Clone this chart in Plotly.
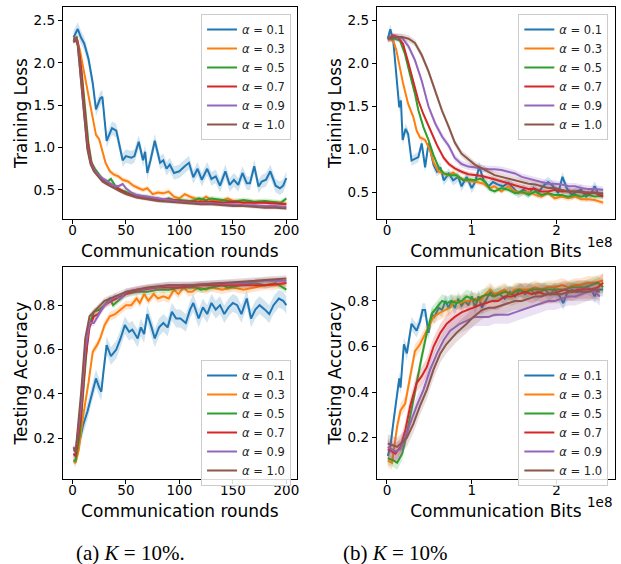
import plotly.graph_objects as go

# ---------------- labels / styling keys ----------------
alphas = ["0.1", "0.3", "0.5", "0.7", "0.9", "1.0"]
colors = ["#1f77b4", "#ff7f0e", "#2ca02c", "#d62728", "#9467bd", "#8c564b"]
band_colors = ["rgba(31,119,180,0.2)", "rgba(255,127,14,0.2)", "rgba(44,160,44,0.2)",
               "rgba(214,39,40,0.2)", "rgba(148,103,189,0.2)", "rgba(140,86,75,0.2)"]

# ---------------- Panel (a) top: Training loss vs communication rounds ----------------
loss_r_x01 = [1,3,5,8,11,15,19,22,26,28,32,37,41,47,50,55,58,62,66,68,70,73,77,82,85,88,91,95,100,105,109,113,117,121,126,130,134,138,143,147,151,155,159,163,166,170,174,177,181,185,190,194,197,200]
loss_r_y01 = [2.30,2.36,2.40,2.30,2.23,2.05,1.76,1.45,1.58,1.60,1.08,1.23,1.20,0.85,0.90,0.88,0.90,1.07,0.85,0.95,0.70,0.85,1.08,0.82,0.85,0.75,0.80,0.70,0.72,0.78,0.82,0.65,0.75,0.62,0.75,0.63,0.66,0.55,0.72,0.56,0.62,0.56,0.70,0.58,0.58,0.78,0.54,0.60,0.62,0.72,0.55,0.52,0.55,0.64]
loss_r_x03 = [1,4,7,10,14,18,22,25,28,31,35,39,43,47,52,57,62,66,70,75,80,85,90,95,100,105,110,115,120,125,130,135,140,145,150,155,160,165,170,175,180,185,190,195,200]
loss_r_y03 = [2.28,2.30,2.15,1.95,1.65,1.40,1.15,1.10,0.95,0.82,0.72,0.68,0.66,0.62,0.60,0.55,0.52,0.50,0.52,0.45,0.47,0.46,0.48,0.42,0.40,0.45,0.42,0.40,0.38,0.42,0.38,0.37,0.37,0.40,0.37,0.37,0.35,0.37,0.35,0.36,0.35,0.34,0.35,0.34,0.34]
loss_r_x05 = [1,4,6,9,12,15,18,21,25,29,33,36,40,45,50,55,60,65,70,75,80,85,90,95,100,110,115,118,125,130,140,150,160,170,180,190,195,200]
loss_r_y05 = [2.28,2.30,2.15,1.85,1.45,1.05,0.82,0.75,0.68,0.62,0.60,0.63,0.55,0.50,0.48,0.45,0.44,0.42,0.42,0.40,0.40,0.38,0.40,0.38,0.38,0.37,0.38,0.40,0.38,0.40,0.38,0.36,0.38,0.36,0.37,0.36,0.35,0.40]
loss_r_x07 = [1,3,5,8,11,14,17,20,24,28,32,36,40,45,50,55,60,70,80,90,100,110,120,130,140,150,160,170,180,190,200]
loss_r_y07 = [2.26,2.30,2.25,1.95,1.50,1.10,0.85,0.75,0.68,0.62,0.58,0.57,0.53,0.50,0.46,0.44,0.42,0.40,0.38,0.39,0.37,0.36,0.36,0.36,0.35,0.36,0.35,0.35,0.35,0.34,0.33]
loss_r_x09 = [1,3,5,8,11,14,17,20,24,28,32,36,40,44,47,50,55,60,70,80,90,100,110,120,130,140,150,160,170,180,190,200]
loss_r_y09 = [2.25,2.28,2.22,1.85,1.40,1.00,0.82,0.74,0.68,0.64,0.61,0.58,0.54,0.55,0.57,0.52,0.47,0.44,0.42,0.40,0.38,0.36,0.35,0.34,0.34,0.33,0.33,0.32,0.32,0.31,0.31,0.30]
loss_r_x10 = [1,3,5,8,11,14,17,20,24,28,32,36,40,45,50,55,60,70,80,90,100,110,120,130,140,150,160,170,180,190,200]
loss_r_y10 = [2.24,2.28,2.20,1.80,1.35,0.98,0.80,0.72,0.66,0.60,0.57,0.54,0.52,0.48,0.45,0.43,0.41,0.39,0.37,0.36,0.35,0.34,0.33,0.33,0.32,0.31,0.31,0.30,0.29,0.29,0.28]
loss_r_spread = [0.08, 0.03, 0.03, 0.02, 0.02, 0.02]

# ---------------- Panel (b) top: Training loss vs communication bits (x in 1e8) ----------------
loss_b_x01 = [0.01,0.04,0.075,0.11,0.145,0.165,0.185,0.22,0.25,0.29,0.33,0.37,0.41,0.45,0.49,0.51,0.55,0.59,0.63,0.67,0.73,0.78,0.84,0.88,0.94,1.00,1.04,1.09,1.14,1.20,1.25,1.31,1.37,1.43,1.49,1.55,1.61,1.67,1.73,1.78,1.84,1.90,1.96,2.02,2.07,2.12,2.18,2.24,2.29,2.35,2.41,2.45,2.49,2.55]
loss_b_y01 = [2.29,2.40,2.26,1.88,1.49,1.57,1.11,1.24,1.18,0.87,0.89,0.91,1.07,0.79,1.07,1.00,0.82,0.74,0.79,0.64,0.72,0.64,0.68,0.57,0.68,0.55,0.62,0.80,0.64,0.57,0.62,0.59,0.57,0.61,0.55,0.49,0.53,0.49,0.55,0.49,0.57,0.62,0.57,0.49,0.68,0.55,0.47,0.51,0.53,0.45,0.49,0.57,0.49,0.48]
loss_b_x03 = [0.01,0.075,0.11,0.15,0.19,0.25,0.31,0.35,0.39,0.45,0.51,0.55,0.61,0.67,0.73,0.78,0.84,0.90,0.98,1.06,1.14,1.21,1.27,1.35,1.43,1.51,1.59,1.67,1.75,1.82,1.90,1.98,2.06,2.14,2.22,2.29,2.37,2.45,2.55]
loss_b_y03 = [2.29,2.27,2.16,1.96,1.77,1.53,1.38,1.22,1.14,1.11,0.99,0.85,0.74,0.72,0.70,0.73,0.68,0.65,0.63,0.62,0.60,0.55,0.57,0.51,0.57,0.51,0.49,0.51,0.47,0.45,0.49,0.43,0.45,0.43,0.45,0.42,0.42,0.41,0.38]
loss_b_x05 = [0.01,0.10,0.153,0.21,0.27,0.33,0.37,0.43,0.49,0.55,0.61,0.67,0.75,0.82,0.90,0.98,1.04,1.10,1.16,1.22,1.27,1.35,1.43,1.51,1.59,1.67,1.75,1.82,1.90,1.98,2.06,2.14,2.22,2.29,2.37,2.45,2.55]
loss_b_y05 = [2.29,2.29,2.27,2.12,1.88,1.65,1.46,1.26,1.11,0.93,0.79,0.72,0.70,0.70,0.64,0.65,0.64,0.66,0.62,0.53,0.51,0.55,0.53,0.49,0.51,0.47,0.51,0.47,0.49,0.47,0.47,0.45,0.47,0.45,0.47,0.45,0.46]
loss_b_x07 = [0.01,0.075,0.13,0.19,0.25,0.31,0.37,0.43,0.51,0.59,0.67,0.73,0.80,0.88,0.96,1.04,1.12,1.20,1.27,1.35,1.43,1.51,1.59,1.67,1.75,1.82,1.90,1.98,2.06,2.14,2.22,2.29,2.37,2.45,2.55]
loss_b_y07 = [2.29,2.33,2.31,2.23,2.02,1.78,1.57,1.41,1.22,1.05,0.90,0.83,0.78,0.74,0.71,0.70,0.69,0.67,0.65,0.62,0.60,0.58,0.56,0.54,0.54,0.51,0.51,0.53,0.51,0.51,0.51,0.50,0.49,0.50,0.45]
loss_b_x09 = [0.01,0.10,0.18,0.255,0.33,0.41,0.49,0.57,0.65,0.73,0.80,0.88,0.96,1.04,1.12,1.20,1.27,1.35,1.43,1.51,1.59,1.67,1.75,1.82,1.90,1.98,2.06,2.14,2.22,2.29,2.37,2.45,2.55]
loss_b_y09 = [2.29,2.31,2.30,2.20,2.04,1.80,1.50,1.30,1.15,1.04,0.90,0.83,0.80,0.79,0.78,0.77,0.77,0.76,0.74,0.72,0.68,0.66,0.64,0.62,0.60,0.60,0.59,0.57,0.57,0.55,0.54,0.54,0.53]
loss_b_x10 = [0.01,0.10,0.18,0.255,0.33,0.41,0.49,0.57,0.65,0.73,0.80,0.88,0.96,1.04,1.12,1.20,1.27,1.35,1.43,1.51,1.59,1.67,1.75,1.82,1.90,1.98,2.06,2.14,2.22,2.29,2.37,2.45,2.55]
loss_b_y10 = [2.29,2.31,2.31,2.29,2.24,2.10,1.91,1.67,1.45,1.26,1.08,0.95,0.88,0.82,0.78,0.74,0.70,0.68,0.66,0.64,0.62,0.60,0.59,0.57,0.55,0.55,0.53,0.51,0.51,0.50,0.50,0.49,0.49]
loss_b_spread = [0.06, 0.03, 0.03, 0.03, 0.04, 0.04]

# ---------------- Panel (a) bottom: Testing accuracy vs communication rounds ----------------
acc_r_x01 = [1,3,5,8,10,14,18,22,25,27,29,32,36,41,45,49,53,56,61,64,67,70,74,77,81,85,89,93,97,101,106,110,113,118,122,126,130,134,138,142,146,150,154,158,163,167,171,175,180,184,188,193,197,200]
acc_r_y01 = [0.13,0.12,0.15,0.22,0.26,0.32,0.40,0.47,0.43,0.41,0.50,0.62,0.57,0.60,0.65,0.71,0.68,0.69,0.65,0.70,0.67,0.76,0.70,0.65,0.70,0.72,0.70,0.77,0.74,0.74,0.72,0.78,0.81,0.74,0.79,0.76,0.81,0.78,0.80,0.76,0.79,0.81,0.80,0.76,0.83,0.74,0.78,0.80,0.78,0.76,0.80,0.83,0.82,0.80]
acc_r_x03 = [1,3,6,10,15,19,23,26,30,35,40,45,50,55,60,63,67,71,76,80,85,90,95,99,104,108,112,118,125,130,140,150,160,170,180,190,200]
acc_r_y03 = [0.10,0.09,0.15,0.30,0.45,0.59,0.62,0.65,0.71,0.75,0.76,0.78,0.80,0.80,0.83,0.81,0.85,0.82,0.85,0.83,0.84,0.83,0.87,0.85,0.88,0.86,0.86,0.88,0.87,0.88,0.87,0.88,0.87,0.88,0.89,0.89,0.90]
acc_r_x05 = [1,3,7,11,15,20,25,30,35,38,43,50,60,70,80,90,100,115,120,130,140,145,160,170,180,190,200]
acc_r_y05 = [0.10,0.10,0.22,0.48,0.70,0.77,0.78,0.80,0.83,0.80,0.82,0.85,0.86,0.86,0.87,0.87,0.88,0.88,0.87,0.88,0.89,0.88,0.89,0.90,0.89,0.90,0.87]
acc_r_x07 = [1,3,8,12,16,20,24,30,37,45,55,65,80,100,120,140,160,180,200]
acc_r_y07 = [0.13,0.12,0.30,0.55,0.70,0.75,0.76,0.80,0.82,0.84,0.86,0.87,0.88,0.88,0.89,0.89,0.89,0.89,0.90]
acc_r_x09 = [1,3,8,12,16,20,25,30,40,45,50,60,75,90,110,140,160,180,200]
acc_r_y09 = [0.15,0.14,0.35,0.60,0.72,0.72,0.76,0.80,0.84,0.83,0.86,0.87,0.88,0.89,0.89,0.90,0.90,0.91,0.91]
acc_r_x10 = [1,3,8,12,16,22,30,40,50,60,70,90,110,140,170,200]
acc_r_y10 = [0.16,0.14,0.40,0.65,0.75,0.78,0.82,0.84,0.86,0.87,0.88,0.89,0.89,0.90,0.91,0.92]
acc_r_spread = [0.04, 0.02, 0.015, 0.015, 0.015, 0.015]

# ---------------- Panel (b) bottom: Testing accuracy vs communication bits (x in 1e8) ----------------
acc_b_x01 = [0.01,0.04,0.08,0.12,0.145,0.16,0.20,0.235,0.29,0.35,0.39,0.42,0.45,0.49,0.53,0.56,0.61,0.65,0.69,0.725,0.76,0.80,0.84,0.88,0.92,0.96,1.00,1.04,1.08,1.12,1.16,1.22,1.27,1.33,1.39,1.45,1.51,1.57,1.63,1.69,1.75,1.80,1.86,1.92,1.98,2.04,2.08,2.12,2.18,2.24,2.29,2.35,2.41,2.45,2.49,2.55]
acc_b_y01 = [0.12,0.16,0.28,0.38,0.46,0.42,0.61,0.57,0.70,0.67,0.71,0.76,0.76,0.66,0.74,0.73,0.77,0.76,0.80,0.77,0.80,0.77,0.81,0.78,0.80,0.78,0.82,0.77,0.82,0.77,0.80,0.84,0.82,0.83,0.81,0.84,0.82,0.85,0.83,0.85,0.83,0.84,0.85,0.83,0.85,0.82,0.79,0.83,0.85,0.84,0.85,0.86,0.85,0.82,0.85,0.85]
acc_b_x03 = [0.01,0.06,0.12,0.16,0.215,0.275,0.33,0.39,0.47,0.55,0.63,0.69,0.745,0.80,0.86,0.92,0.98,1.04,1.10,1.16,1.22,1.27,1.33,1.39,1.45,1.51,1.59,1.67,1.75,1.82,1.90,1.98,2.06,2.14,2.22,2.29,2.37,2.45,2.55]
acc_b_y03 = [0.10,0.09,0.25,0.32,0.35,0.47,0.58,0.61,0.67,0.73,0.75,0.76,0.77,0.80,0.79,0.80,0.80,0.81,0.80,0.83,0.85,0.83,0.84,0.85,0.83,0.85,0.85,0.85,0.86,0.85,0.86,0.86,0.87,0.86,0.87,0.87,0.88,0.88,0.89]
acc_b_x05 = [0.01,0.08,0.12,0.18,0.235,0.29,0.35,0.41,0.47,0.53,0.59,0.65,0.71,0.76,0.82,0.88,0.94,1.00,1.06,1.12,1.20,1.25,1.31,1.39,1.47,1.55,1.63,1.71,1.78,1.86,1.94,2.02,2.10,2.18,2.25,2.33,2.41,2.49,2.55]
acc_b_y05 = [0.11,0.10,0.09,0.13,0.22,0.32,0.44,0.555,0.66,0.745,0.77,0.80,0.79,0.80,0.79,0.80,0.82,0.81,0.80,0.82,0.83,0.82,0.83,0.84,0.83,0.85,0.84,0.85,0.85,0.85,0.85,0.85,0.85,0.86,0.86,0.86,0.87,0.88,0.86]
acc_b_x07 = [0.01,0.10,0.16,0.215,0.275,0.35,0.41,0.47,0.55,0.63,0.705,0.80,0.88,0.94,1.00,1.08,1.16,1.24,1.31,1.39,1.47,1.55,1.63,1.71,1.78,1.86,1.94,2.02,2.10,2.18,2.25,2.33,2.41,2.49,2.55]
acc_b_y07 = [0.15,0.13,0.16,0.23,0.34,0.44,0.47,0.51,0.60,0.66,0.70,0.73,0.75,0.76,0.77,0.78,0.79,0.80,0.80,0.82,0.82,0.83,0.84,0.83,0.84,0.83,0.83,0.84,0.85,0.84,0.85,0.85,0.85,0.86,0.88]
acc_b_x09 = [0.01,0.10,0.16,0.215,0.29,0.35,0.43,0.51,0.59,0.67,0.745,0.86,0.98,1.04,1.12,1.20,1.27,1.35,1.43,1.51,1.59,1.67,1.75,1.82,1.90,1.98,2.06,2.14,2.22,2.29,2.37,2.45,2.51]
acc_b_y09 = [0.16,0.14,0.15,0.20,0.28,0.34,0.41,0.50,0.57,0.63,0.67,0.70,0.72,0.73,0.73,0.73,0.74,0.74,0.74,0.75,0.76,0.77,0.78,0.79,0.80,0.80,0.81,0.82,0.82,0.83,0.84,0.84,0.82]
acc_b_x10 = [0.01,0.12,0.235,0.31,0.39,0.47,0.55,0.63,0.70,0.82,0.94,1.02,1.12,1.20,1.27,1.35,1.43,1.51,1.59,1.67,1.75,1.82,1.90,1.98,2.06,2.14,2.22,2.29,2.37,2.45,2.51]
acc_b_y10 = [0.175,0.16,0.20,0.26,0.34,0.41,0.50,0.57,0.61,0.66,0.70,0.73,0.76,0.77,0.77,0.78,0.79,0.80,0.80,0.81,0.82,0.82,0.83,0.83,0.83,0.84,0.84,0.84,0.84,0.85,0.84]
acc_b_spread = [0.03, 0.03, 0.03, 0.04, 0.04, 0.04]

# ---------------- tick labels / titles ----------------
rounds_ticks = [0, 50, 100, 150, 200]
bits_ticks = [0, 1, 2]
bits_ticktext = ["0", "1", "2"]
loss_ticks = [0.5, 1.0, 1.5, 2.0, 2.5]
acc_ticks = [0.2, 0.4, 0.6, 0.8]

panels = [
    dict(xs=[loss_r_x01, loss_r_x03, loss_r_x05, loss_r_x07, loss_r_x09, loss_r_x10],
         ys=[loss_r_y01, loss_r_y03, loss_r_y05, loss_r_y07, loss_r_y09, loss_r_y10],
         spread=loss_r_spread, xa="x", ya="y", leg="legend"),
    dict(xs=[loss_b_x01, loss_b_x03, loss_b_x05, loss_b_x07, loss_b_x09, loss_b_x10],
         ys=[loss_b_y01, loss_b_y03, loss_b_y05, loss_b_y07, loss_b_y09, loss_b_y10],
         spread=loss_b_spread, xa="x2", ya="y2", leg="legend2"),
    dict(xs=[acc_r_x01, acc_r_x03, acc_r_x05, acc_r_x07, acc_r_x09, acc_r_x10],
         ys=[acc_r_y01, acc_r_y03, acc_r_y05, acc_r_y07, acc_r_y09, acc_r_y10],
         spread=acc_r_spread, xa="x3", ya="y3", leg="legend3"),
    dict(xs=[acc_b_x01, acc_b_x03, acc_b_x05, acc_b_x07, acc_b_x09, acc_b_x10],
         ys=[acc_b_y01, acc_b_y03, acc_b_y05, acc_b_y07, acc_b_y09, acc_b_y10],
         spread=acc_b_spread, xa="x4", ya="y4", leg="legend4"),
]

fig = go.Figure()
for p in panels:
    for i in range(6):
        xs, ys, s = p["xs"][i], p["ys"][i], p["spread"][i]
        up = [v + s for v in ys]
        lo = [v - s for v in ys]
        fig.add_trace(go.Scatter(x=xs + xs[::-1], y=up + lo[::-1], fill="toself",
                                 fillcolor=band_colors[i], line=dict(width=0),
                                 mode="lines", hoverinfo="skip", showlegend=False,
                                 xaxis=p["xa"], yaxis=p["ya"]))
        fig.add_trace(go.Scatter(x=xs, y=ys, mode="lines",
                                 line=dict(color=colors[i], width=2),
                                 name="<i>α</i> = " + alphas[i],
                                 legend=p["leg"], xaxis=p["xa"], yaxis=p["ya"]))

W, H = 621, 564
L1, R1 = 63 / W, 298 / W
L2, R2 = 378 / W, 617 / W
T1, B1 = 1 - 7 / H, 1 - 219 / H
T2, B2 = 1 - 267 / H, 1 - 479 / H

tickfont = dict(family="DejaVu Sans", size=13.5, color="black")
titlefont = dict(family="DejaVu Sans", size=17, color="black")


def xaxis(dom, anchor, rng, tv, tt, title):
    d = dict(domain=dom, anchor=anchor, range=rng, tickvals=tv, showgrid=False,
             zeroline=False, showline=True, linecolor="black", linewidth=1, mirror=True,
             ticks="outside", ticklen=4, tickwidth=1, tickcolor="black",
             ticklabelstandoff=-5,
             tickfont=tickfont, title=dict(text=title, font=titlefont, standoff=7))
    if tt is not None:
        d["ticktext"] = tt
    return d


def yaxis(dom, anchor, rng, tv, title):
    return dict(domain=dom, anchor=anchor, range=rng, tickvals=tv, tickformat=".1f",
                showgrid=False, zeroline=False, showline=True, linecolor="black",
                linewidth=1, mirror=True, ticks="outside", ticklen=4, tickwidth=1,
                tickcolor="black", tickfont=tickfont,
                title=dict(text=title, font=titlefont, standoff=1))


def legend(x, y):
    return dict(x=x, y=y, xanchor="left", yanchor="top", bgcolor="rgba(255,255,255,0.85)",
                bordercolor="#cccccc", borderwidth=1, tracegroupgap=0, itemwidth=30,
                font=dict(family="DejaVu Sans", size=11.5, color="#222222"))


fig.update_layout(
    width=W, height=H, margin=dict(l=0, r=0, t=0, b=0),
    paper_bgcolor="white", plot_bgcolor="white",
    xaxis=xaxis([L1, R1], "y", [-9, 210], rounds_ticks, None, "Communication rounds"),
    yaxis=yaxis([B1, T1], "x", [0.157, 2.66], loss_ticks, "Training Loss"),
    xaxis2=xaxis([L2, R2], "y2", [-0.12, 2.69], bits_ticks, bits_ticktext, "Communication Bits"),
    yaxis2=yaxis([B1, T1], "x2", [0.189, 2.66], loss_ticks, "Training Loss"),
    xaxis3=xaxis([L1, R1], "y3", [-9, 210], rounds_ticks, None, "Communication rounds"),
    yaxis3=yaxis([B2, T2], "x3", [0.017, 0.972], acc_ticks, "Testing Accuracy"),
    xaxis4=xaxis([L2, R2], "y4", [-0.12, 2.69], bits_ticks, bits_ticktext, "Communication Bits"),
    yaxis4=yaxis([B2, T2], "x4", [0.019, 0.949], acc_ticks, "Testing Accuracy"),
    legend=legend(201.7 / W, 1 - 14 / H),
    legend2=legend(520 / W, 1 - 14 / H),
    legend3=legend(201.7 / W, 1 - 360 / H),
    legend4=legend(520 / W, 1 - 360 / H),
    showlegend=True,
)

annots = [
    dict(text="1e8", x=616 / W, y=1 - 242 / H),
    dict(text="1e8", x=616 / W, y=1 - 502 / H),
]
for a in annots:
    fig.add_annotation(text=a["text"], x=a["x"], y=a["y"], xref="paper", yref="paper",
                       xanchor="right", yanchor="middle", showarrow=False,
                       font=dict(family="DejaVu Sans", size=13.5, color="black"))

captions = ["(a) <i>K</i> = 10%.", "(b) <i>K</i> = 10%"]
cap_x = [131 / W, 397 / W]
for c, cx in zip(captions, cap_x):
    fig.add_annotation(text=c, x=cx, y=1 - 553 / H, xref="paper", yref="paper",
                       xanchor="center", yanchor="middle", showarrow=False,
                       font=dict(family="Liberation Serif", size=21, color="black"))

fig.write_html("out.html", config={"displayModeBar": False},
               post_script="document.body.style.margin='0';document.body.style.overflow='hidden';")
